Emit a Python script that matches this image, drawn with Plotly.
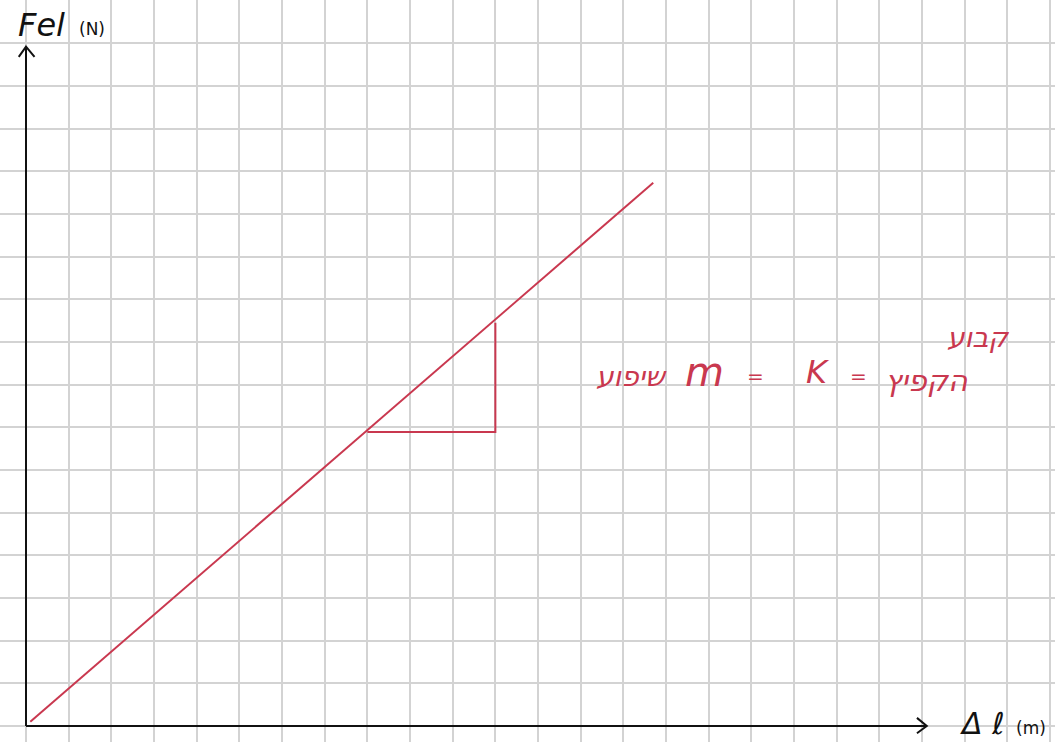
import plotly.graph_objects as go

# Spring force vs. extension: a straight line through the origin,
# with a slope triangle and the note "slope m = k = spring constant".
line_x = [0.1, 14.7]
line_y = [0.1, 12.73]

tri_x = [8.0, 11.0, 11.0]
tri_y = [6.89, 6.89, 9.45]

x_axis_end = 21.11
y_axis_end = 15.92

RED = "#c9384f"
INK = "#111111"
GRID = "#d3d3d3"
UNIT = 42.67  # pixels per grid square

W, H = 1055, 742
x_range = [-26 / UNIT, (W - 26) / UNIT]
y_range = [-(H - 726) / UNIT, 726 / UNIT]

fig = go.Figure()

# axes drawn as pen strokes
fig.add_trace(go.Scatter(x=[0, x_axis_end], y=[0, 0], mode="lines",
                         line=dict(color=INK, width=2), hoverinfo="skip"))
fig.add_trace(go.Scatter(x=[0, 0], y=[0, y_axis_end], mode="lines",
                         line=dict(color=INK, width=2), hoverinfo="skip"))
# open arrow heads
fig.add_trace(go.Scatter(x=[x_axis_end - 0.23, x_axis_end, x_axis_end - 0.23],
                         y=[0.19, 0, -0.17], mode="lines",
                         line=dict(color=INK, width=2), hoverinfo="skip"))
fig.add_trace(go.Scatter(x=[-0.17, 0, 0.2], y=[y_axis_end - 0.24, y_axis_end, y_axis_end - 0.24],
                         mode="lines", line=dict(color=INK, width=2), hoverinfo="skip"))

# the force line
fig.add_trace(go.Scatter(x=line_x, y=line_y, mode="lines",
                         line=dict(color=RED, width=2), hoverinfo="skip"))
# slope triangle
fig.add_trace(go.Scatter(x=tri_x, y=tri_y, mode="lines",
                         line=dict(color=RED, width=2), hoverinfo="skip"))

HAND = "DejaVu Sans"

def note(x, y, text, size, color, italic=True):
    fig.add_annotation(x=x, y=y, text=f"<i>{text}</i>" if italic else text,
                       showarrow=False, xanchor="center", yanchor="middle",
                       font=dict(family=HAND, size=size, color=color))

# axis titles
note(0.36, 16.42, "Fel", 32, INK)
note(1.55, 16.33, "(N)", 17, INK, italic=False)
note(22.4, 0.05, "Δ ℓ", 30, INK)
note(23.55, -0.05, "(m)", 17, INK, italic=False)

# slope note
note(14.2, 8.2, "שיפוע", 28, RED)
note(15.9, 8.3, "m", 40, RED)
note(17.1, 8.2, "=", 20, RED)
note(18.55, 8.3, "K", 32, RED)
note(19.5, 8.2, "=", 20, RED)
note(21.1, 8.1, "הקפיץ", 30, RED)
note(22.3, 9.1, "קבוע", 28, RED)

fig.update_layout(
    width=W, height=H,
    margin=dict(l=0, r=0, t=0, b=0),
    paper_bgcolor="white", plot_bgcolor="white",
    showlegend=False,
    xaxis=dict(range=x_range, tick0=0, dtick=1, showgrid=True, gridcolor=GRID,
               gridwidth=2, zeroline=False, showticklabels=False, ticks="",
               fixedrange=True),
    yaxis=dict(range=y_range, tick0=0, dtick=1, showgrid=True, gridcolor=GRID,
               gridwidth=2, zeroline=False, showticklabels=False, ticks="",
               fixedrange=True),
)

fig.write_html("out.html")
